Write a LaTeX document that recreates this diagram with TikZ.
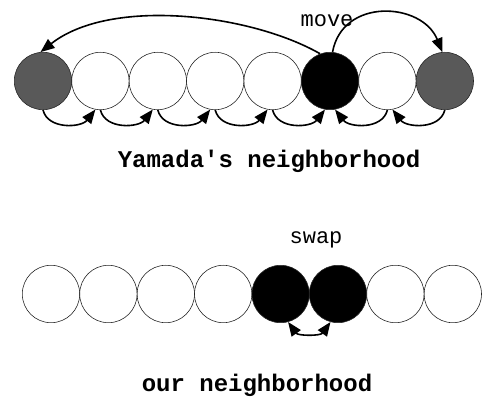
\documentclass[tikz,border=0pt]{standalone}
\usepackage{fontspec}
\setmonofont{Liberation Mono}
\usetikzlibrary{arrows.meta}
\begin{document}
\begin{tikzpicture}[x=1pt,y=1pt,
  cell/.style={circle,draw=black!85,line width=0.6pt,minimum size=57.4pt,inner sep=0pt},
  graycell/.style={cell,fill=black!65},
  blackcell/.style={cell,fill=black},
  tipx/.tip={Triangle[length=14pt,width=11pt]},
  arr/.style={line width=1.6pt,-tipx},
  darr/.style={line width=1.6pt,tipx-tipx},
  lbl/.style={font=\ttfamily\fontsize{22}{24}\selectfont,inner sep=0pt,anchor=base},
  blbl/.style={font=\ttfamily\bfseries\fontsize{24}{26}\selectfont,inner sep=0pt,anchor=base}]
\useasboundingbox (0,0) rectangle (486,398);
% top row
\foreach \i in {1,...,8} {
  \pgfmathsetmacro{\xx}{43+57.4*(\i-1)}
  \ifnum\i=1 \node[graycell] (t\i) at (\xx,317) {};
  \else\ifnum\i=8 \node[graycell] (t\i) at (\xx,317) {};
  \else\ifnum\i=6 \node[blackcell] (t\i) at (\xx,317) {};
  \else \node[cell] (t\i) at (\xx,317) {};
  \fi\fi\fi
}
% bottom row
\foreach \i in {1,...,8} {
  \pgfmathsetmacro{\xx}{51+57.4*(\i-1)}
  \ifnum\i=5 \node[blackcell] (b\i) at (\xx,104) {};
  \else\ifnum\i=6 \node[blackcell] (b\i) at (\xx,104) {};
  \else \node[cell] (b\i) at (\xx,104) {};
  \fi\fi
}
% labels
\node[lbl] (mv) at (327,371) {move};
\node[blbl] (yl) at (269,230) {Yamada's neighborhood};
\node[lbl] (sw) at (316,154) {swap};
\node[blbl] (ol) at (257,6) {our neighborhood};
% move arcs
\draw[arr] (t6.110) .. controls +(-70,40) and +(70,55) .. (t1.95);
\draw[arr] (t6.85) .. controls +(10,55) and +(-20,50) .. (t8.95);
% neighbour arrows (top row)
\foreach \a/\b in {1/2,2/3,3/4,4/5,5/6} {
  \draw[arr] (t\a.south) .. controls +(5,-20) and +(-14,-18) .. (t\b.-100);
}
\foreach \a/\b in {8/7,7/6} {
  \draw[arr] (t\a.south) .. controls +(-5,-20) and +(14,-18) .. (t\b.-80);
}
% swap arrow
\draw[darr] (b5.-75) .. controls +(10,-14) and +(-10,-14) .. (b6.-105);
\end{tikzpicture}
\end{document}
